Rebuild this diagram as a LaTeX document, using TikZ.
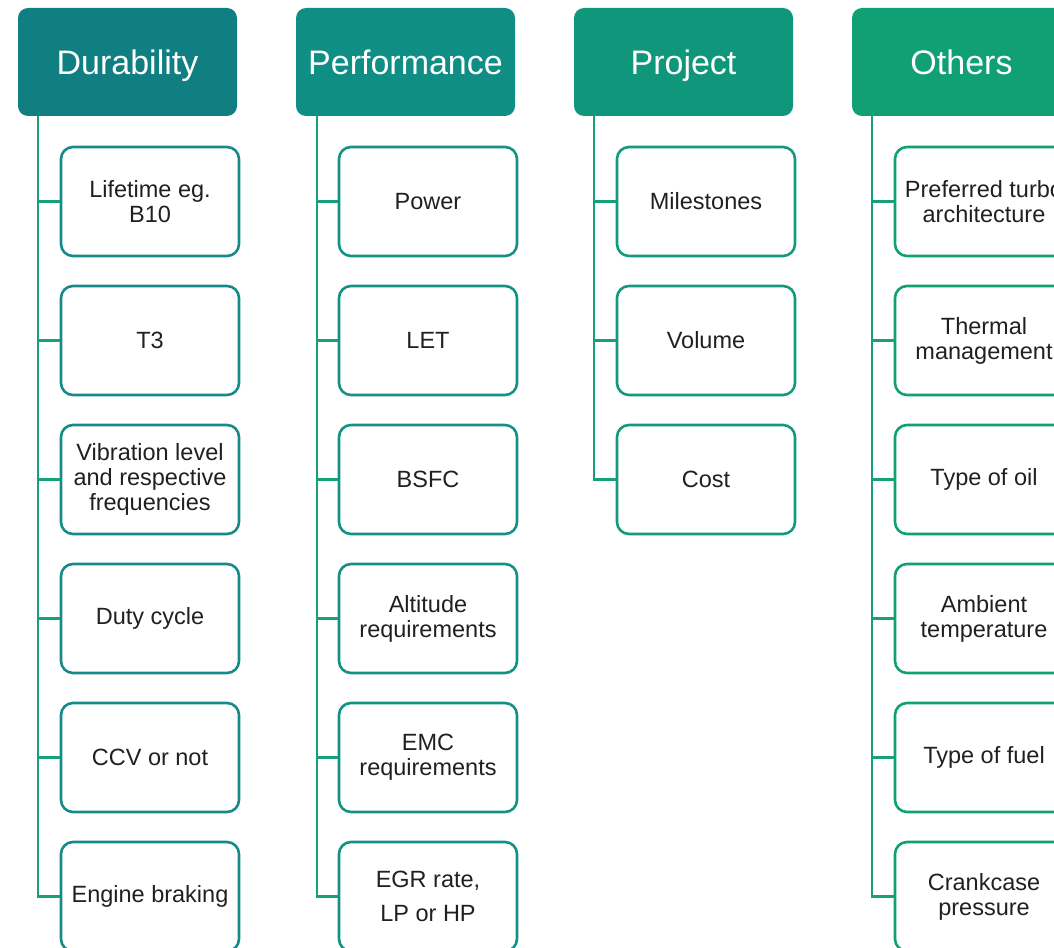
\documentclass[tikz,border=0pt]{standalone}
\usepackage{fontspec}
\setmainfont{Liberation Sans}
\definecolor{hdA}{HTML}{0F7F82}
\definecolor{hdB}{HTML}{0F8E85}
\definecolor{hdC}{HTML}{10967B}
\definecolor{hdD}{HTML}{10A073}
\definecolor{bdA}{HTML}{168A88}
\definecolor{bdB}{HTML}{139184}
\definecolor{bdC}{HTML}{13997C}
\definecolor{bdD}{HTML}{12A072}
\definecolor{linkc}{HTML}{16A07B}
\definecolor{txt}{HTML}{231F20}
\tikzset{
  header/.style={rectangle, rounded corners=10pt, minimum width=219pt,
    minimum height=108pt, inner sep=0pt, text=white,
    text height=24.5pt, text depth=0pt,
    font=\fontsize{34}{40}\selectfont},
  item/.style={rectangle, rounded corners=12pt, draw=#1, line width=2.6pt,
    minimum width=178pt, minimum height=109pt, inner sep=0pt, text=txt,
    align=center, font=\fontsize{23.5}{25}\selectfont},
  link/.style={draw=linkc, line width=2.5pt},
}
\begin{document}
\begin{tikzpicture}[x=1pt, y=-1pt]
  \useasboundingbox (0,0) rectangle (1054,947);
  \clip (0,0) rectangle (1054,947);

  % column headers
  \node[header, fill=hdA] (hA) at (127.5,62) {Durability};
  \node[header, fill=hdB] (hB) at (405.5,62) {Performance};
  \node[header, fill=hdC] (hC) at (683.5,62) {Project};
  \node[header, fill=hdD] (hD) at (961.5,62) {Others};

  % Durability
  \node[item=bdA] (a1) at (150,201.5) {Lifetime eg.\\B10};
  \node[item=bdA] (a2) at (150,340.5) {T3};
  \node[item=bdA] (a3) at (150,479.5) {Vibration level\\and respective\\frequencies};
  \node[item=bdA] (a4) at (150,618.5) {Duty cycle};
  \node[item=bdA] (a5) at (150,757.5) {CCV or not};
  \node[item=bdA] (a6) at (150,896.5) {Engine braking};

  % Performance
  \node[item=bdB] (b1) at (428,201.5) {Power};
  \node[item=bdB] (b2) at (428,340.5) {LET};
  \node[item=bdB] (b3) at (428,479.5) {BSFC};
  \node[item=bdB] (b4) at (428,618.5) {Altitude\\requirements};
  \node[item=bdB] (b5) at (428,757.5) {EMC\\requirements};
  \node[item=bdB] (b6) at (428,896.5) {EGR rate,\\[9pt]LP or HP};

  % Project
  \node[item=bdC] (c1) at (706,201.5) {Milestones};
  \node[item=bdC] (c2) at (706,340.5) {Volume};
  \node[item=bdC] (c3) at (706,479.5) {Cost};

  % Others
  \node[item=bdD] (d1) at (984,201.5) {Preferred turbo\\architecture};
  \node[item=bdD] (d2) at (984,340.5) {Thermal\\management};
  \node[item=bdD] (d3) at (984,479.5) {Type of oil};
  \node[item=bdD] (d4) at (984,618.5) {Ambient\\temperature};
  \node[item=bdD] (d5) at (984,757.5) {Type of fuel};
  \node[item=bdD] (d6) at (984,896.5) {Crankcase\\pressure};

  % trunk start points below each header
  \coordinate (tA) at ([xshift=20pt]hA.south west);
  \coordinate (tB) at ([xshift=21pt]hB.south west);
  \coordinate (tC) at ([xshift=20pt]hC.south west);
  \coordinate (tD) at ([xshift=20pt]hD.south west);

  % trunks and branches
  \draw[link] (tA) |- (a6.west);
  \foreach \n in {a1,a2,a3,a4,a5} \draw[link] (tA |- \n.west) -- (\n.west);
  \draw[link] (tB) |- (b6.west);
  \foreach \n in {b1,b2,b3,b4,b5} \draw[link] (tB |- \n.west) -- (\n.west);
  \draw[link] (tC) |- (c3.west);
  \foreach \n in {c1,c2} \draw[link] (tC |- \n.west) -- (\n.west);
  \draw[link] (tD) |- (d6.west);
  \foreach \n in {d1,d2,d3,d4,d5} \draw[link] (tD |- \n.west) -- (\n.west);
\end{tikzpicture}
\end{document}
